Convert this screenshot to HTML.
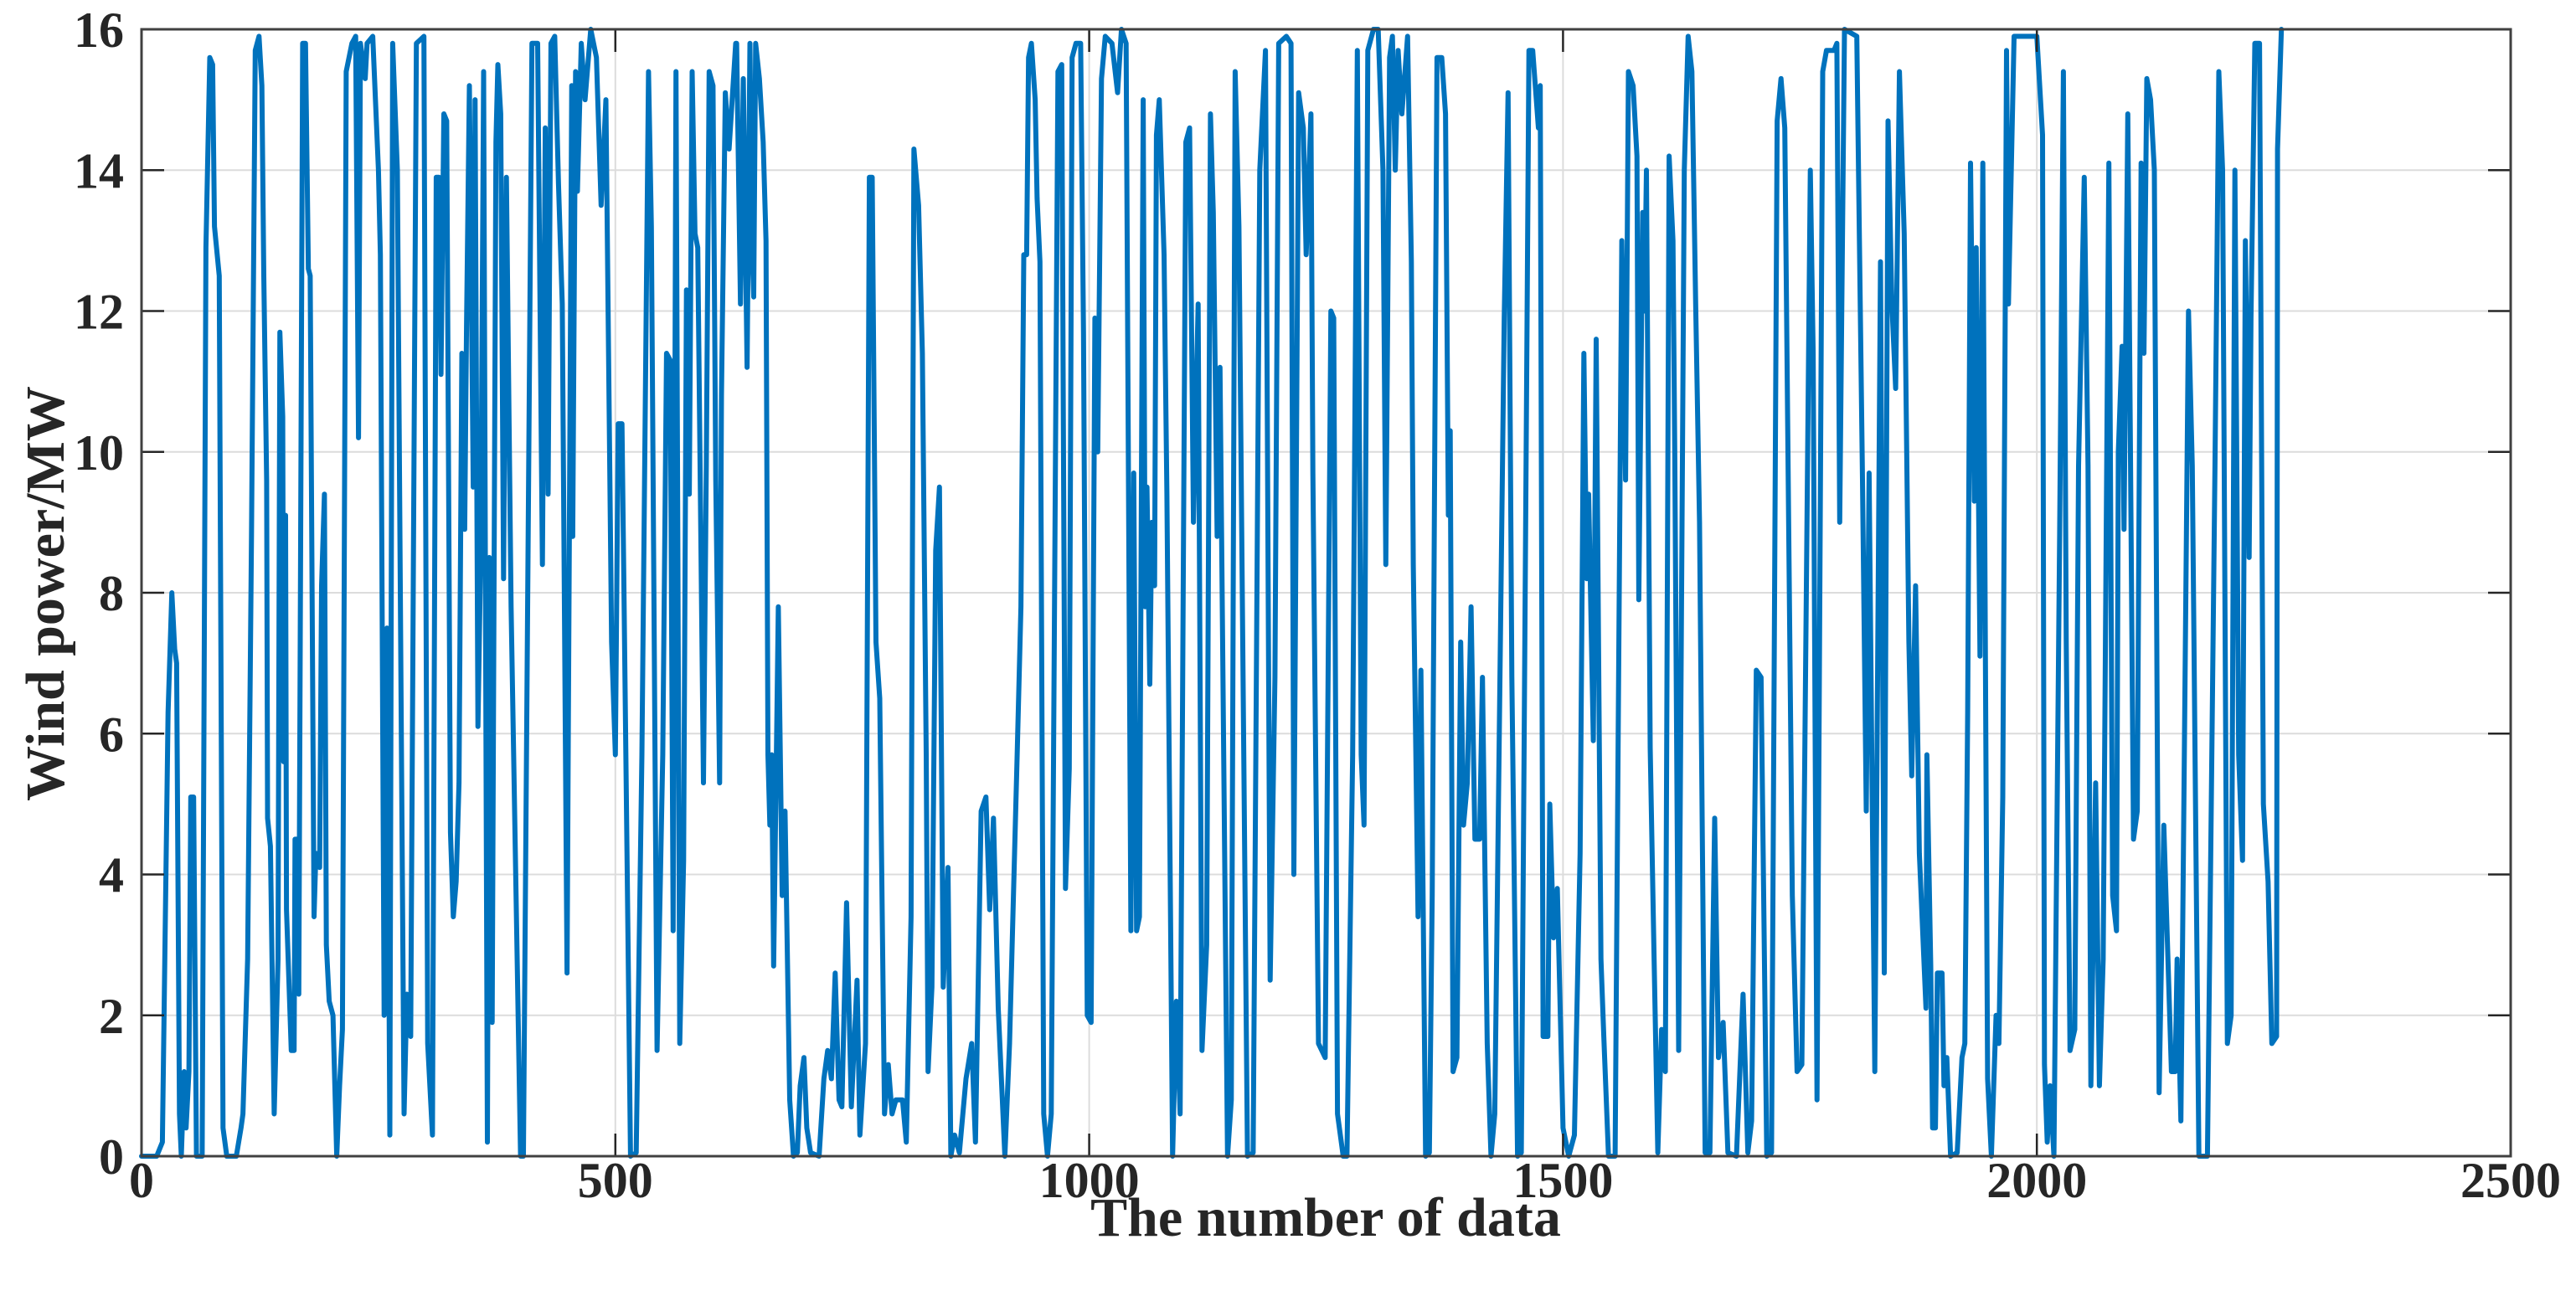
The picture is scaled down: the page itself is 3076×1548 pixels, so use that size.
<!DOCTYPE html>
<html><head><meta charset="utf-8"><style>
html,body{margin:0;padding:0;background:#fff;}
svg{display:block;}
text{font-family:"Liberation Serif","Times New Roman",serif;font-weight:bold;fill:#262626;}
</style></head><body>
<svg id="chart" xmlns="http://www.w3.org/2000/svg" width="3076" height="1548" viewBox="0 0 3076 1548">
<rect x="0" y="0" width="3076" height="1548" fill="#fff"/>
<g id="grid"></g>
<g id="series"></g>
<g id="axes"></g>
<text x="1583" y="1476" font-size="66" text-anchor="middle">The number of data</text>
<text x="0" y="0" font-size="66" text-anchor="middle" transform="translate(76,709) rotate(-90)">Wind power/MW</text>
</svg>
<script>
const xTicks=[0,500,1000,1500,2000,2500];
const yTicks=[0,2,4,6,8,10,12,14,16];
const xTickLabels=["0","500","1000","1500","2000","2500"];
const yTickLabels=["0","2","4","6","8","10","12","14","16"];
const dataIndex=[
0,16,22,28,32,35,37,40,42,45,47,50,52,55,58,64,68,72,75,77,
82,86,90,100,105,107,112,116,120,124,127,129,132,133,136,140,144,146,149,150,
152,153,158,161,162,164,166,170,173,176,178,182,184,188,190,193,195,198,202,206,
209,212,216,222,226,229,231,236,238,244,250,252,256,259,262,265,270,274,277,280,
284,290,298,302,307,311,314,316,319,322,326,329,332,335,338,341,343,346,350,352,
355,358,361,365,367,370,374,376,379,382,385,390,400,403,412,418,423,426,429,432,
436,440,444,449,454,455,458,460,464,468,474,480,485,490,496,500,503,507,509,516,
522,528,535,538,544,550,554,558,561,564,568,572,575,578,581,584,587,593,596,599,
603,606,610,612,616,620,627,
628,632,635,639,642,644,646,648,652,656,659,661,663,665,667,672,676,679,684,688,
692,695,699,702,706,715,720,724,728,732,736,739,744,749,755,758,764,768,771,775,
779,784,788,792,796,803,807,812,815,820,824,828,830,834,838,842,846,851,854,858,
863,870,876,880,886,891,895,899,904,911,916,924,928,931,934,936,939,943,945,948,
952,956,960,967,971,975,979,982,986,991,994,998,1002,1006,1009,1013,1017,1024,1030,1034,
1039,1044,1047,1050,1053,1057,1059,1061,1064,1066,1069,1071,1074,1079,1082,1088,1092,1096,1102,1106,
1110,1115,1119,1124,1128,1131,1135,1138,1146,1150,1154,1158,1167,1173,1180,1186,1191,1196,1200,1208,
1213,1216,1221,1226,1229,1234,1236,1242,1249,1255,
1258,1262,1268,1272,1278,1283,1287,1290,1294,1300,1305,1310,1313,1317,1320,1323,1326,1330,1336,1340,
1342,1347,1350,1355,1359,1362,1367,1372,1376,1379,1381,1384,1388,1392,1395,1399,1403,1407,1412,1415,
1420,1424,1428,1438,1442,1446,1452,1456,1464,1468,1474,1476,1479,1484,1486,1490,1494,1500,1506,1512,
1518,1522,1525,1527,1532,1535,1540,1543,1548,1555,1562,1566,1569,1574,1578,1580,1584,1586,1588,1592,
1596,1600,1604,1608,1612,1616,1618,1622,1628,1632,1636,1640,1644,1650,1655,1660,1664,1669,1674,1683,
1690,1695,1699,1704,1709,1715,1720,1726,1730,1734,1742,1747,1752,1761,1764,1768,1774,1778,1786,1789,
1792,1797,1810,1816,1820,1823,1829,1835,1839,1843,1847,1851,1855,1860,1865,1868,1872,1876,1883,
1884,1888,1890,1893,1895,1900,1902,1905,1909,1916,1921,1924,1927,1930,1934,1936,1940,1943,1948,1952,
1957,1960,1964,1968,1970,1976,2000,2006,2008,2011,2014,2018,2024,2028,2031,2035,2040,2044,2050,2054,
2057,2062,2066,2070,2076,2080,2084,2086,2090,2092,2096,2102,2106,2110,2113,2116,2120,2124,2129,2134,
2142,2146,2148,2152,2160,2164,2171,2180,2188,2192,2196,2201,2205,2209,2213,2217,2220,2224,2226,2230,
2235,2239,2244,2248,2253,2254,2258];
const windPower=[
0,0,0.2,6.3,8,7.2,7,0.6,0,1.2,0.4,1.2,5.1,5.1,0,0,12.9,15.6,15.5,13.2,
12.5,0.4,0,0,0.4,0.6,2.8,8.8,15.7,15.9,15.2,12.5,9.6,4.8,4.4,0.6,2.8,11.7,10.5,5.6,
9.1,3.5,1.5,1.5,4.5,4.5,2.3,15.8,15.8,12.6,12.5,3.4,4.3,4.1,8.1,9.4,3,2.2,2,0,
1,1.8,15.4,15.8,15.9,10.2,15.8,15.3,15.8,15.9,14,12.8,2,7.5,0.3,15.8,14,6.2,0.6,2.3,
1.7,15.8,15.9,1.6,0.3,13.9,13.9,11.1,14.8,14.7,4.6,3.4,3.9,5.3,11.4,8.9,11.8,15.2,9.5,15,
6.1,8.6,15.4,0.2,8.5,1.9,14.4,15.5,14.8,8.2,13.9,7.8,0,0,15.8,15.8,8.4,14.6,9.4,15.8,
15.9,13.8,12.1,2.6,15.2,8.8,15.4,13.7,15.8,15,16,15.6,13.5,15,7.3,5.7,10.4,10.4,8.1,0,
0.05,5.7,15.4,13.2,1.5,5.7,11.4,11.3,3.2,15.4,1.6,4.2,12.3,9.4,15.4,13.1,12.9,5.3,9.8,15.4,
15.2,9.6,5.3,10.8,15.1,14.3,15.8,
15.8,12.1,15.3,11.2,15.8,13,12.2,15.8,15.3,14.4,13,5.7,4.7,5.7,2.7,7.8,3.7,4.9,0.8,0,
0.05,1,1.4,0.4,0.05,0,1.1,1.5,1.1,2.6,0.8,0.7,3.6,0.7,2.5,0.3,1.6,13.9,13.9,7.3,
6.5,0.6,1.3,0.6,0.8,0.8,0.2,3.4,14.3,13.5,11.4,5.7,1.2,2.4,8.6,9.5,2.4,4.1,0,0.3,
0.05,1.1,1.6,0.2,4.9,5.1,3.5,4.8,2.1,0,1.6,5.7,7.8,12.8,12.8,15.6,15.8,15,13.6,12.7,
0.6,0,0.6,15.4,15.5,3.8,5.5,15.6,15.8,15.8,11.7,2,1.9,11.9,10,15.3,15.9,15.8,15.1,16,
15.8,3.2,9.7,3.2,3.4,15,7.8,9.5,6.7,9,8.1,14.5,15,12.8,9.4,0,2.2,0.6,14.4,14.6,
9,12.1,1.5,3,14.8,13.4,8.8,11.2,0,0.8,15.4,13.2,0,0.05,14,15.7,2.5,6.8,15.8,15.9,
15.8,4,15.1,14.6,12.8,14.8,9.7,1.6,1.4,12,
11.9,0.6,0,0,5.7,15.7,5.7,4.7,15.7,16,16,14,8.4,15.6,15.9,14,15.7,14.8,15.9,12.7,
8.4,3.4,6.9,0,0.05,3.7,15.6,15.6,14.8,9.1,10.3,1.2,1.4,7.3,4.7,5.3,7.8,4.5,4.5,6.8,
1.6,0,0.6,11.9,15.1,6.8,0,0.05,15.7,15.7,14.6,15.2,1.7,1.7,5,3.1,3.8,0.4,0,0.3,
4.3,11.4,8.2,9.4,5.9,11.6,2.8,1.7,0,0,13,9.6,15.4,15.2,14.2,7.9,13.4,12,14,5.8,
2.9,0.05,1.8,1.2,14.2,13,9.9,1.5,14,15.9,15.4,12.1,9,0.05,0.05,4.8,1.4,1.9,0.05,0,
2.3,0.05,0.5,6.9,6.8,0,0.05,14.7,15.3,14.6,3.7,1.2,1.3,14,11.4,0.8,15.4,15.7,15.7,15.8,
9,16,15.9,9.6,4.9,9.7,1.2,12.7,2.6,14.7,12.1,10.9,15.4,13.1,7.3,5.4,8.1,4.3,2.1,
5.7,2.7,0.4,0.4,2.6,2.6,1,1.4,0,0.05,1.4,1.6,6.3,14.1,9.3,12.9,7.1,14.1,1.1,0,
2,1.6,5.1,15.7,12.1,15.9,15.9,14.5,1.3,0.2,1,0,8.8,15.4,7.3,1.5,1.8,9.8,13.9,9.8,
1,5.3,1,2.8,14.1,3.7,3.2,10,11.5,8.9,14.8,4.5,4.9,14.1,11.4,15.3,15,14,0.9,4.7,
1.2,1.2,2.8,0.5,12,9.8,0,0,9.8,15.4,14,1.6,2,14,5.7,4.2,13,8.5,11.9,15.8,
15.8,5,3.9,1.6,1.7,14.3,16];

const NS='http://www.w3.org/2000/svg';
const L=169,R=2998,T=35,B=1381,XMAX=2500,YMAX=16;
function sx(v){return L+v/XMAX*(R-L);}
function sy(v){return B-v/YMAX*(B-T);}
function mk(tag,attrs,parent){const e=document.createElementNS(NS,tag);for(const k in attrs)e.setAttribute(k,attrs[k]);parent.appendChild(e);return e;}
const grid=document.getElementById('grid'),axes=document.getElementById('axes'),series=document.getElementById('series');
xTicks.forEach((t,i)=>{
  if(t>0&&t<XMAX){const g=mk('line',{x1:sx(t),x2:sx(t),y1:T,y2:B,stroke:'#dcdcdc','stroke-width':2},grid);
  
  }
  const tb=mk('line',{x1:sx(t),x2:sx(t),y1:B,y2:B-27,stroke:'#262626','stroke-width':2.5},axes);
  
  
  const tt=mk('line',{x1:sx(t),x2:sx(t),y1:T,y2:T+27,stroke:'#262626','stroke-width':2.5},axes);
  
  
  const lb=mk('text',{x:sx(t),y:1430,'font-size':60,'text-anchor':'middle'},axes);
  lb.textContent=xTickLabels[i];
  
  
});
yTicks.forEach((t,i)=>{
  if(t>0&&t<YMAX){const g=mk('line',{x1:L,x2:R,y1:sy(t),y2:sy(t),stroke:'#dcdcdc','stroke-width':2},grid);
  
  }
  const tl=mk('line',{x1:L,x2:L+27,y1:sy(t),y2:sy(t),stroke:'#262626','stroke-width':2.5},axes);
  
  
  const tr=mk('line',{x1:R,x2:R-27,y1:sy(t),y2:sy(t),stroke:'#262626','stroke-width':2.5},axes);
  
  
  const lb=mk('text',{x:148,y:sy(t)+21,'font-size':60,'text-anchor':'end'},axes);
  lb.textContent=yTickLabels[i];
  
  
});
const frame=mk('rect',{x:L,y:T,width:R-L,height:B-T,fill:'none',stroke:'#404040','stroke-width':3},axes);


let d='';
for(let i=0;i<dataIndex.length;i++){d+=(i?'L':'M')+sx(dataIndex[i]).toFixed(1)+','+sy(windPower[i]).toFixed(1);}
const line=mk('path',{d:d,fill:'none',stroke:'#0072BD','stroke-width':6,'stroke-linejoin':'round','stroke-linecap':'round'},series);


</script>
</body></html>
